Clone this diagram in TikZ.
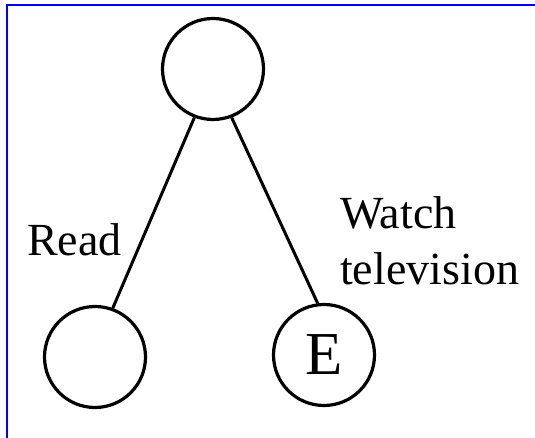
\documentclass[tikz,border=0pt]{standalone}
\usepackage{fontspec}
\setmainfont{Liberation Serif}
\begin{document}
\begin{tikzpicture}[x=1pt,y=1pt,
  state/.style={circle,draw,line width=3.2pt,minimum size=101pt,inner sep=0pt},
  edge/.style={line width=3pt},
  lbl/.style={inner sep=0pt,font={\fontsize{46}{56}\selectfont}}]
\useasboundingbox (0,0) rectangle (535,-438);
\draw[blue,line width=2pt] (7,-438) -- (7,-5) -- (535,-5);
\node[state] (top) at (213,-69) {};
\node[state] (left) at (95,-357) {};
\node[state,font={\fontsize{61}{61}\selectfont}] (right) at (324,-355) {E};
\draw[edge] (top.249) -- (left.70);
\draw[edge] (top.291) -- (right.97);
\node[lbl,anchor=base west] (read) at (27,-255) {Read};
\node[lbl,anchor=north west,align=left] (watch) at (340,-196) {Watch\\television};
\end{tikzpicture}
\end{document}
